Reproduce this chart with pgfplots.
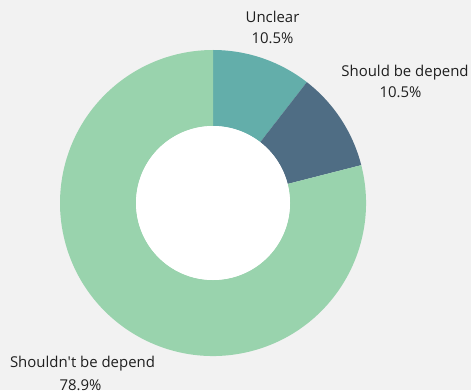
\documentclass[border=0pt]{standalone}
\usepackage{pgfplots}
\pgfplotsset{compat=1.18}
\usepackage{pgfplotstable}
\usepackage{fontspec}
\setmainfont{Open Sans}
\definecolor{bg}{HTML}{F2F2F2}
\definecolor{cUnclear}{HTML}{63AEAA}
\definecolor{cShould}{HTML}{4F6D84}
\definecolor{cShouldnt}{HTML}{99D3AD}
\pgfplotstableread{
label value
Unclear 10.5
Should 10.5
Shouldnt 78.9
}\data
\pgfplotstablegetelem{0}{value}\of\data \let\va\pgfplotsretval
\pgfplotstablegetelem{1}{value}\of\data \let\vb\pgfplotsretval
\pgfplotstablegetelem{2}{value}\of\data \let\vc\pgfplotsretval
\pgfmathsetmacro\tot{\va+\vb+\vc}
\pgfmathsetmacro\aA{90}
\pgfmathsetmacro\aB{\aA-\va/\tot*360}
\pgfmathsetmacro\aC{\aB-\vb/\tot*360}
\pgfmathsetmacro\aD{\aC-\vc/\tot*360}
\def\cx{213}\def\cy{187}\def\Ro{153}\def\Ri{77}
\newcommand\donutwedge[3]{% color, a1, a2
  \fill[#1] (axis cs:\cx,\cy) ++(#2:\Ro bp) arc[start angle=#2,end angle=#3,radius=\Ro bp]
    -- ++(#3+180:\Ro bp-\Ri bp) arc[start angle=#3,end angle=#2,radius=\Ri bp] -- cycle;}
\begin{document}
\begin{tikzpicture}
\begin{axis}[x=1bp,y=1bp,xmin=0,xmax=471,ymin=0,ymax=390,hide axis,clip=false]
\fill[bg] (axis cs:0,0) rectangle (axis cs:471,390);
\donutwedge{cUnclear}{\aA}{\aB}
\donutwedge{cShould}{\aB}{\aC}
\donutwedge{cShouldnt}{\aC}{\aD}
\fill[white] (axis cs:\cx,\cy) circle[radius=\Ri bp];
\begin{scope}[every node/.style={anchor=base,font=\fontsize{15}{18}\selectfont,text=black!88,inner sep=0pt}]
\node at (axis cs:272.5,368) {Unclear};
\node at (axis cs:272.5,347) {10.5\%};
\node at (axis cs:405,314) {Should be depend};
\node at (axis cs:400.5,293) {10.5\%};
\node at (axis cs:82.5,23) {Shouldn\textquotesingle t be depend};
\node at (axis cs:80.5,0) {78.9\%};
\end{scope}
\end{axis}
\pgfresetboundingbox
\useasboundingbox (current axis.south west) rectangle (current axis.north east);
\end{tikzpicture}
\end{document}
